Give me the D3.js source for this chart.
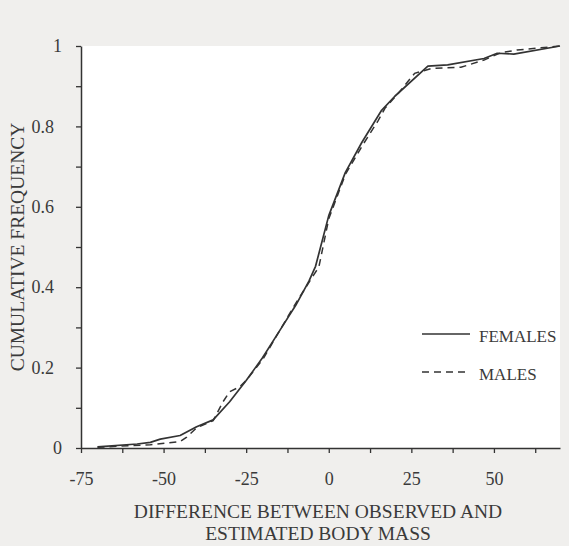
<!DOCTYPE html>
<html>
<head>
<meta charset="utf-8">
<script src="https://cdn.jsdelivr.net/npm/d3@7"></script>
<style>
html, body { margin: 0; padding: 0; background: #f0efed; }
svg { display: block; }
text { font-family: "Liberation Serif", "DejaVu Serif", serif; fill: #3a3a3a; }
</style>
</head>
<body>
<svg id="chart" width="569" height="546"></svg>
<script>
// Data
const females = [
  [-70, 0.003], [-58, 0.010], [-54, 0.014], [-51, 0.022], [-45, 0.031], [-40, 0.053],
  [-35, 0.070], [-30, 0.115], [-25, 0.168], [-20, 0.225], [-15, 0.290], [-10, 0.355],
  [-6, 0.415], [-4, 0.452], [0, 0.578], [5, 0.685], [10, 0.760],
  [16, 0.840], [20, 0.875], [30, 0.950], [36, 0.953], [47, 0.969], [51, 0.982],
  [56, 0.980], [70, 1.000]
];
const males = [
  [-70, 0.002], [-54, 0.008], [-45, 0.016], [-43, 0.027], [-40, 0.050], [-35, 0.068],
  [-32, 0.115], [-30, 0.140], [-27, 0.152], [-25, 0.168], [-20, 0.220], [-15, 0.290],
  [-10, 0.360], [-5, 0.425], [-3, 0.450], [0, 0.570], [5, 0.680], [10, 0.750],
  [15, 0.815], [17, 0.845], [21, 0.882], [26, 0.932], [31, 0.944], [40, 0.947],
  [47, 0.965], [52, 0.983], [57, 0.990], [70, 1.000]
];
const xTicks = [-75, -62.5, -50, -37.5, -25, -12.5, 0, 12.5, 25, 37.5, 50, 62.5];
const xLabels = [-75, -50, -25, 0, 25, 50];
const yTicks = [0, 0.1, 0.2, 0.3, 0.4, 0.5, 0.6, 0.7, 0.8, 0.9, 1];
const yLabels = [0, 0.2, 0.4, 0.6, 0.8, 1];
const seriesNames = ["FEMALES", "MALES"];
const xTitle = ["DIFFERENCE BETWEEN OBSERVED AND", "ESTIMATED BODY MASS"];
const yTitle = "CUMULATIVE FREQUENCY";

const svg = d3.select("#chart");
const L = 81, R = 560, T = 46, B = 448;
const ink = "#333333";

const x = d3.scaleLinear().domain([-75, 70]).range([L, R]);
const y = d3.scaleLinear().domain([0, 1]).range([B, T]);

svg.append("rect").attr("x", L).attr("y", T).attr("width", R - L).attr("height", B - T)
  .attr("fill", "#ffffff");

// X axis
const xAxis = svg.append("g").attr("transform", `translate(0,${B})`)
  .call(d3.axisBottom(x).tickValues(xTicks).tickSize(5).tickSizeOuter(0)
    .tickFormat(d => xLabels.includes(d) ? String(d) : ""));
xAxis.select(".domain").attr("stroke", ink).attr("stroke-width", 1.5);
xAxis.selectAll(".tick line").attr("stroke", ink).attr("stroke-width", 1.3);
xAxis.selectAll(".tick text").attr("font-size", 18).attr("fill", ink)
  .attr("dy", "0.71em").attr("y", 24);

// Y axis
const yAxis = svg.append("g").attr("transform", `translate(${L},0)`)
  .call(d3.axisLeft(y).tickValues(yTicks).tickSize(5).tickSizeOuter(0)
    .tickFormat(d => yLabels.some(v => Math.abs(v - d) < 1e-9) ? String(d) : ""));
yAxis.select(".domain").attr("stroke", ink).attr("stroke-width", 1.5);
yAxis.selectAll(".tick line").attr("stroke", ink).attr("stroke-width", 1.3);
yAxis.selectAll(".tick text").attr("font-size", 18).attr("fill", ink)
  .attr("x", d => (d === 0 || d === 1) ? -19 : -27);

// Lines
const line = d3.line().x(d => x(d[0])).y(d => y(d[1]));
svg.append("path").datum(females).attr("d", line).attr("fill", "none")
  .attr("stroke", ink).attr("stroke-width", 1.7).attr("stroke-linejoin", "round");
svg.append("path").datum(males).attr("d", line).attr("fill", "none")
  .attr("stroke", ink).attr("stroke-width", 1.5).attr("stroke-dasharray", "7,5");

// Legend
const leg = svg.append("g");
[0, 1].forEach(i => {
  const ly = 334 + i * 38;
  leg.append("line").attr("x1", 422).attr("x2", 470).attr("y1", ly).attr("y2", ly)
    .attr("stroke", ink).attr("stroke-width", 1.4)
    .attr("stroke-dasharray", i === 1 ? "7,5" : null);
  leg.append("text").attr("x", 479).attr("y", ly + 8).attr("font-size", 17)
    .text(seriesNames[i]);
});

// Axis titles
xTitle.forEach((t, i) => {
  svg.append("text").attr("x", 318).attr("y", 518 + i * 22).attr("text-anchor", "middle")
    .attr("font-size", 19.5).text(t);
});
svg.append("text").attr("transform", "translate(24,247) rotate(-90)")
  .attr("text-anchor", "middle").attr("font-size", 19.5).text(yTitle);
</script>
</body>
</html>
